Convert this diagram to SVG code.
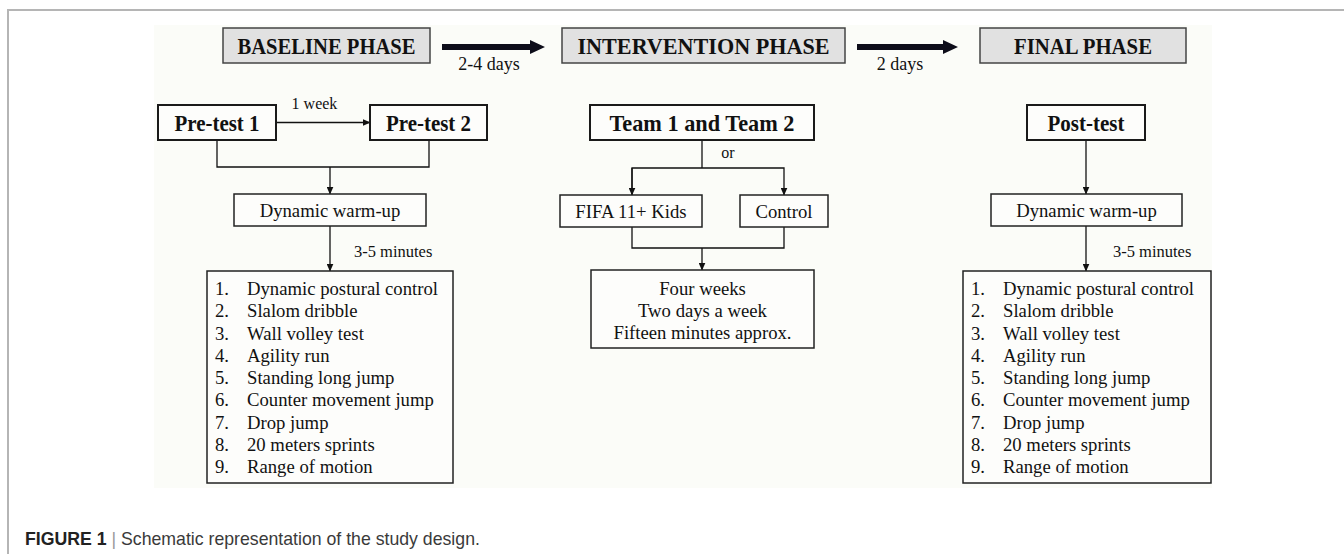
<svg xmlns="http://www.w3.org/2000/svg" width="1344" height="554" viewBox="0 0 1344 554">
<defs>
<marker id="ah" markerUnits="userSpaceOnUse" markerWidth="8" markerHeight="7" refX="7.5" refY="3.5" orient="auto">
<path d="M0,0 L8,3.5 L0,7 z" fill="#111"/>
</marker>
<style>
.phase{fill:#e1e1e1;stroke:#444;stroke-width:1.5}
.bbox{fill:#fdfdfb;stroke:#1a1a1a;stroke-width:2}
.box{fill:#fdfdfb;stroke:#222;stroke-width:1.5}
.bold{font-family:"Liberation Serif",serif;font-weight:bold;font-size:23px;fill:#111;text-anchor:middle}
.reg{font-family:"Liberation Serif",serif;font-size:18.7px;fill:#111}
.mid{text-anchor:middle}
.sm{font-family:"Liberation Serif",serif;font-size:16.5px;fill:#111}
.conn{fill:none;stroke:#111;stroke-width:1.3}
.big{fill:#0d0d1a}
</style>
</defs>
<rect x="0" y="0" width="1344" height="554" fill="#ffffff"/>
<path d="M8,554 V10 H1344" fill="none" stroke="#b5b5b5" stroke-width="2"/>
<rect x="154" y="25" width="1058" height="463" fill="#fbfcf8"/>

<g id="connectors">
<polygon class="big" points="442,44 530,44 530,40 545,47 530,54 530,50 442,50"/>
<polygon class="big" points="857,44 943,44 943,40 958,47 943,54 943,50 857,50"/>
<path class="conn" d="M276,122.5 H370" marker-end="url(#ah)"/>
<path class="conn" d="M217,140 V167 H429 V140"/>
<path class="conn" d="M330,167 V194" marker-end="url(#ah)"/>
<path class="conn" d="M330,226 V271" marker-end="url(#ah)"/>
<path class="conn" d="M702,140 V168"/>
<path class="conn" d="M632,195 V168 H784 V195" marker-end="url(#ah)"/>
<path class="conn" d="M632,168 V195" marker-end="url(#ah)"/>
<path class="conn" d="M632,227 V248 H784 V227"/>
<path class="conn" d="M702,248 V270" marker-end="url(#ah)"/>
<path class="conn" d="M1086,140 V194" marker-end="url(#ah)"/>
<path class="conn" d="M1086,226 V271" marker-end="url(#ah)"/>
<text class="reg mid" x="489" y="70" style="font-size:18px">2-4 days</text>
<text class="reg mid" x="900" y="70" style="font-size:18px">2 days</text>
<text class="reg mid" x="314.5" y="109" style="font-size:16px">1 week</text>
<text class="reg mid" x="728" y="158" style="font-size:16px">or</text>
<text class="sm" x="354" y="257">3-5 minutes</text>
<text class="sm" x="1113" y="257">3-5 minutes</text>
</g>

<g id="baseline-phase">
<rect class="phase" x="223" y="28" width="207" height="35"/>
<text class="bold" x="326.5" y="53.5" textLength="178" lengthAdjust="spacingAndGlyphs">BASELINE PHASE</text>
</g>
<g id="intervention-phase">
<rect class="phase" x="562" y="28" width="283" height="35"/>
<text class="bold" x="703.5" y="53.5" textLength="252" lengthAdjust="spacingAndGlyphs">INTERVENTION PHASE</text>
</g>
<g id="final-phase">
<rect class="phase" x="980" y="28" width="206" height="35"/>
<text class="bold" x="1083" y="53.5" textLength="138" lengthAdjust="spacingAndGlyphs">FINAL PHASE</text>
</g>

<g id="pretest1">
<rect class="bbox" x="158" y="105" width="118" height="35"/>
<text class="bold" x="217" y="131" textLength="85" lengthAdjust="spacingAndGlyphs">Pre-test 1</text>
</g>
<g id="pretest2">
<rect class="bbox" x="370" y="105" width="117" height="35"/>
<text class="bold" x="428.5" y="131" textLength="85" lengthAdjust="spacingAndGlyphs">Pre-test 2</text>
</g>
<g id="teams">
<rect class="bbox" x="590" y="105" width="224" height="35"/>
<text class="bold" x="702" y="131" textLength="185" lengthAdjust="spacingAndGlyphs">Team 1 and Team 2</text>
</g>
<g id="posttest">
<rect class="bbox" x="1027" y="105" width="118" height="35"/>
<text class="bold" x="1086" y="131" textLength="77" lengthAdjust="spacingAndGlyphs">Post-test</text>
</g>

<g id="warmup-left">
<rect class="box" x="234" y="194" width="192" height="32"/>
<text class="reg mid" x="330" y="217">Dynamic warm-up</text>
</g>
<g id="fifa">
<rect class="box" x="560" y="195" width="142" height="32"/>
<text class="reg mid" x="631" y="218">FIFA 11+ Kids</text>
</g>
<g id="control">
<rect class="box" x="740" y="195" width="88" height="32"/>
<text class="reg mid" x="784" y="218">Control</text>
</g>
<g id="warmup-right">
<rect class="box" x="991" y="194" width="191" height="32"/>
<text class="reg mid" x="1086.5" y="217">Dynamic warm-up</text>
</g>

<g id="schedule">
<rect class="box" x="591" y="270" width="223" height="78"/>
<text class="reg mid" x="702.5" y="295">Four weeks</text>
<text class="reg mid" x="702.5" y="317">Two days a week</text>
<text class="reg mid" x="702.5" y="339">Fifteen minutes approx.</text>
</g>

<g id="tests-left">
<rect class="box" x="207" y="271" width="246" height="212"/>
<g class="reg">
<text x="215" y="295">1.</text><text x="247" y="295">Dynamic postural control</text>
<text x="215" y="317.25">2.</text><text x="247" y="317.25">Slalom dribble</text>
<text x="215" y="339.5">3.</text><text x="247" y="339.5">Wall volley test</text>
<text x="215" y="361.75">4.</text><text x="247" y="361.75">Agility run</text>
<text x="215" y="384">5.</text><text x="247" y="384">Standing long jump</text>
<text x="215" y="406.25">6.</text><text x="247" y="406.25">Counter movement jump</text>
<text x="215" y="428.5">7.</text><text x="247" y="428.5">Drop jump</text>
<text x="215" y="450.75">8.</text><text x="247" y="450.75">20 meters sprints</text>
<text x="215" y="473">9.</text><text x="247" y="473">Range of motion</text>
</g>
</g>

<g id="tests-right">
<rect class="box" x="963" y="271" width="248" height="212"/>
<g class="reg">
<text x="971" y="295">1.</text><text x="1003" y="295">Dynamic postural control</text>
<text x="971" y="317.25">2.</text><text x="1003" y="317.25">Slalom dribble</text>
<text x="971" y="339.5">3.</text><text x="1003" y="339.5">Wall volley test</text>
<text x="971" y="361.75">4.</text><text x="1003" y="361.75">Agility run</text>
<text x="971" y="384">5.</text><text x="1003" y="384">Standing long jump</text>
<text x="971" y="406.25">6.</text><text x="1003" y="406.25">Counter movement jump</text>
<text x="971" y="428.5">7.</text><text x="1003" y="428.5">Drop jump</text>
<text x="971" y="450.75">8.</text><text x="1003" y="450.75">20 meters sprints</text>
<text x="971" y="473">9.</text><text x="1003" y="473">Range of motion</text>
</g>
</g>

<text x="25" y="545" font-family="'Liberation Sans', Arial, sans-serif" font-size="17.7" fill="#3a3a3a"><tspan font-weight="bold" fill="#222">FIGURE 1</tspan><tspan fill="#999"> | </tspan><tspan>Schematic representation of the study design.</tspan></text>
</svg>
